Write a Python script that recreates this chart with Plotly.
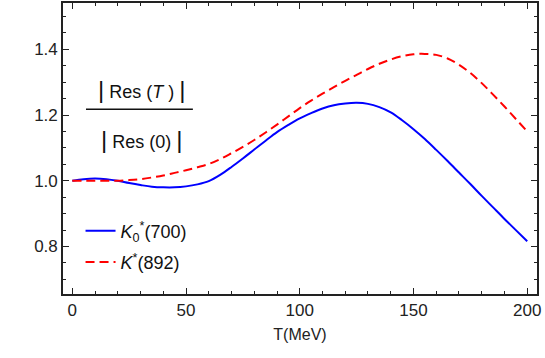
import plotly.graph_objects as go

T = [0, 5, 10, 15, 20, 25, 30, 35, 40, 45, 50, 55, 60, 65, 70, 75, 80, 85, 90, 95,
     100, 105, 110, 115, 120, 125, 130, 135, 140, 145, 150, 155, 160, 165, 170, 175,
     180, 185, 190, 195, 200]

k0_700 = [1.000, 1.005, 1.007, 1.005, 1.000, 0.993, 0.987, 0.982, 0.980, 0.980,
          0.983, 0.989, 0.999, 1.018, 1.042, 1.068, 1.095, 1.122, 1.148, 1.170,
          1.190, 1.206, 1.220, 1.230, 1.235, 1.237, 1.234, 1.224, 1.208, 1.184,
          1.157, 1.127, 1.094, 1.060, 1.025, 0.990, 0.954, 0.919, 0.884, 0.850, 0.816]

k_892 = [1.000, 1.000, 1.000, 1.000, 1.000, 1.002, 1.005, 1.010, 1.016, 1.024,
         1.032, 1.041, 1.051, 1.066, 1.084, 1.103, 1.124, 1.147, 1.171, 1.196,
         1.221, 1.244, 1.265, 1.285, 1.304, 1.322, 1.340, 1.356, 1.369, 1.379,
         1.385, 1.386, 1.383, 1.372, 1.353, 1.328, 1.297, 1.262, 1.226, 1.188, 1.150]

x_ticks = [0, 50, 100, 150, 200]
y_ticks = [0.8, 1.0, 1.2, 1.4]
y_tick_labels = ["0.8", "1.0", "1.2", "1.4"]

FONT = "Liberation Sans, Arial, sans-serif"
NB = "\u00a0"
BAR = "<span style='font-size:24px'>|</span>"

fig = go.Figure()
fig.add_trace(go.Scatter(
    x=T, y=k0_700, mode="lines", line=dict(color="#0000ff", width=2, shape="spline"),
    name="<i>K</i><sub>0</sub><sup>*</sup>(700)", legendgroup="a"))
fig.add_trace(go.Scatter(
    x=T, y=k_892, mode="lines", line=dict(color="#ff0000", width=2, dash="9px,5px", shape="spline"),
    name="<i>K</i><sup>*</sup>(892)", legendgroup="b"))

axis_common = dict(
    showline=True, linecolor="#222", linewidth=1.6, mirror="allticks",
    ticks="inside", ticklen=6, tickwidth=1, tickcolor="#222",
    showgrid=False, zeroline=False,
    tickfont=dict(family=FONT, size=17, color="#222"),
)

fig.update_xaxes(range=[-4.08, 204.3], tickvals=x_ticks,
                 minor=dict(dtick=10, ticks="inside", ticklen=3.5, tickcolor="#222"),
                 title=dict(text="T(MeV)", font=dict(family=FONT, size=16, color="#222"), standoff=10),
                 **axis_common)
fig.update_yaxes(range=[0.6556, 1.5408], tickvals=y_ticks, ticktext=y_tick_labels,
                 minor=dict(dtick=0.05, tick0=0.8, ticks="inside", ticklen=3.5, tickcolor="#222"),
                 **axis_common)

# fraction label
fig.add_annotation(xref="paper", yref="paper", x=0.1646, y=0.703, showarrow=False,
                   xanchor="center", yanchor="middle",
                   text=BAR + NB + "Res" + NB + "(<i>T</i>" + NB + ")" + NB + BAR,
                   font=dict(family=FONT, size=18, color="#111"))
fig.add_annotation(xref="paper", yref="paper", x=0.1646, y=0.532, showarrow=False,
                   xanchor="center", yanchor="middle",
                   text=BAR + NB + "Res" + NB + "(0)" + NB + BAR,
                   font=dict(family=FONT, size=18, color="#111"))
fig.add_shape(type="line", xref="paper", yref="paper", x0=0.0485, x1=0.274, y0=0.635, y1=0.635,
              line=dict(color="#111", width=1.5))

fig.update_layout(
    width=545, height=358,
    margin=dict(l=63, r=8, t=1, b=64),
    paper_bgcolor="white", plot_bgcolor="white",
    font=dict(family=FONT, size=16, color="#222"),
    legend=dict(x=0.037, y=0.28, xanchor="left", yanchor="top", bgcolor="rgba(0,0,0,0)",
                font=dict(family=FONT, size=18, color="#111"), tracegroupgap=5,
                traceorder="grouped"),
)

fig.write_html("out.html", config={"displayModeBar": False},
               post_script="document.body.style.margin='0';document.body.style.overflow='hidden';")
